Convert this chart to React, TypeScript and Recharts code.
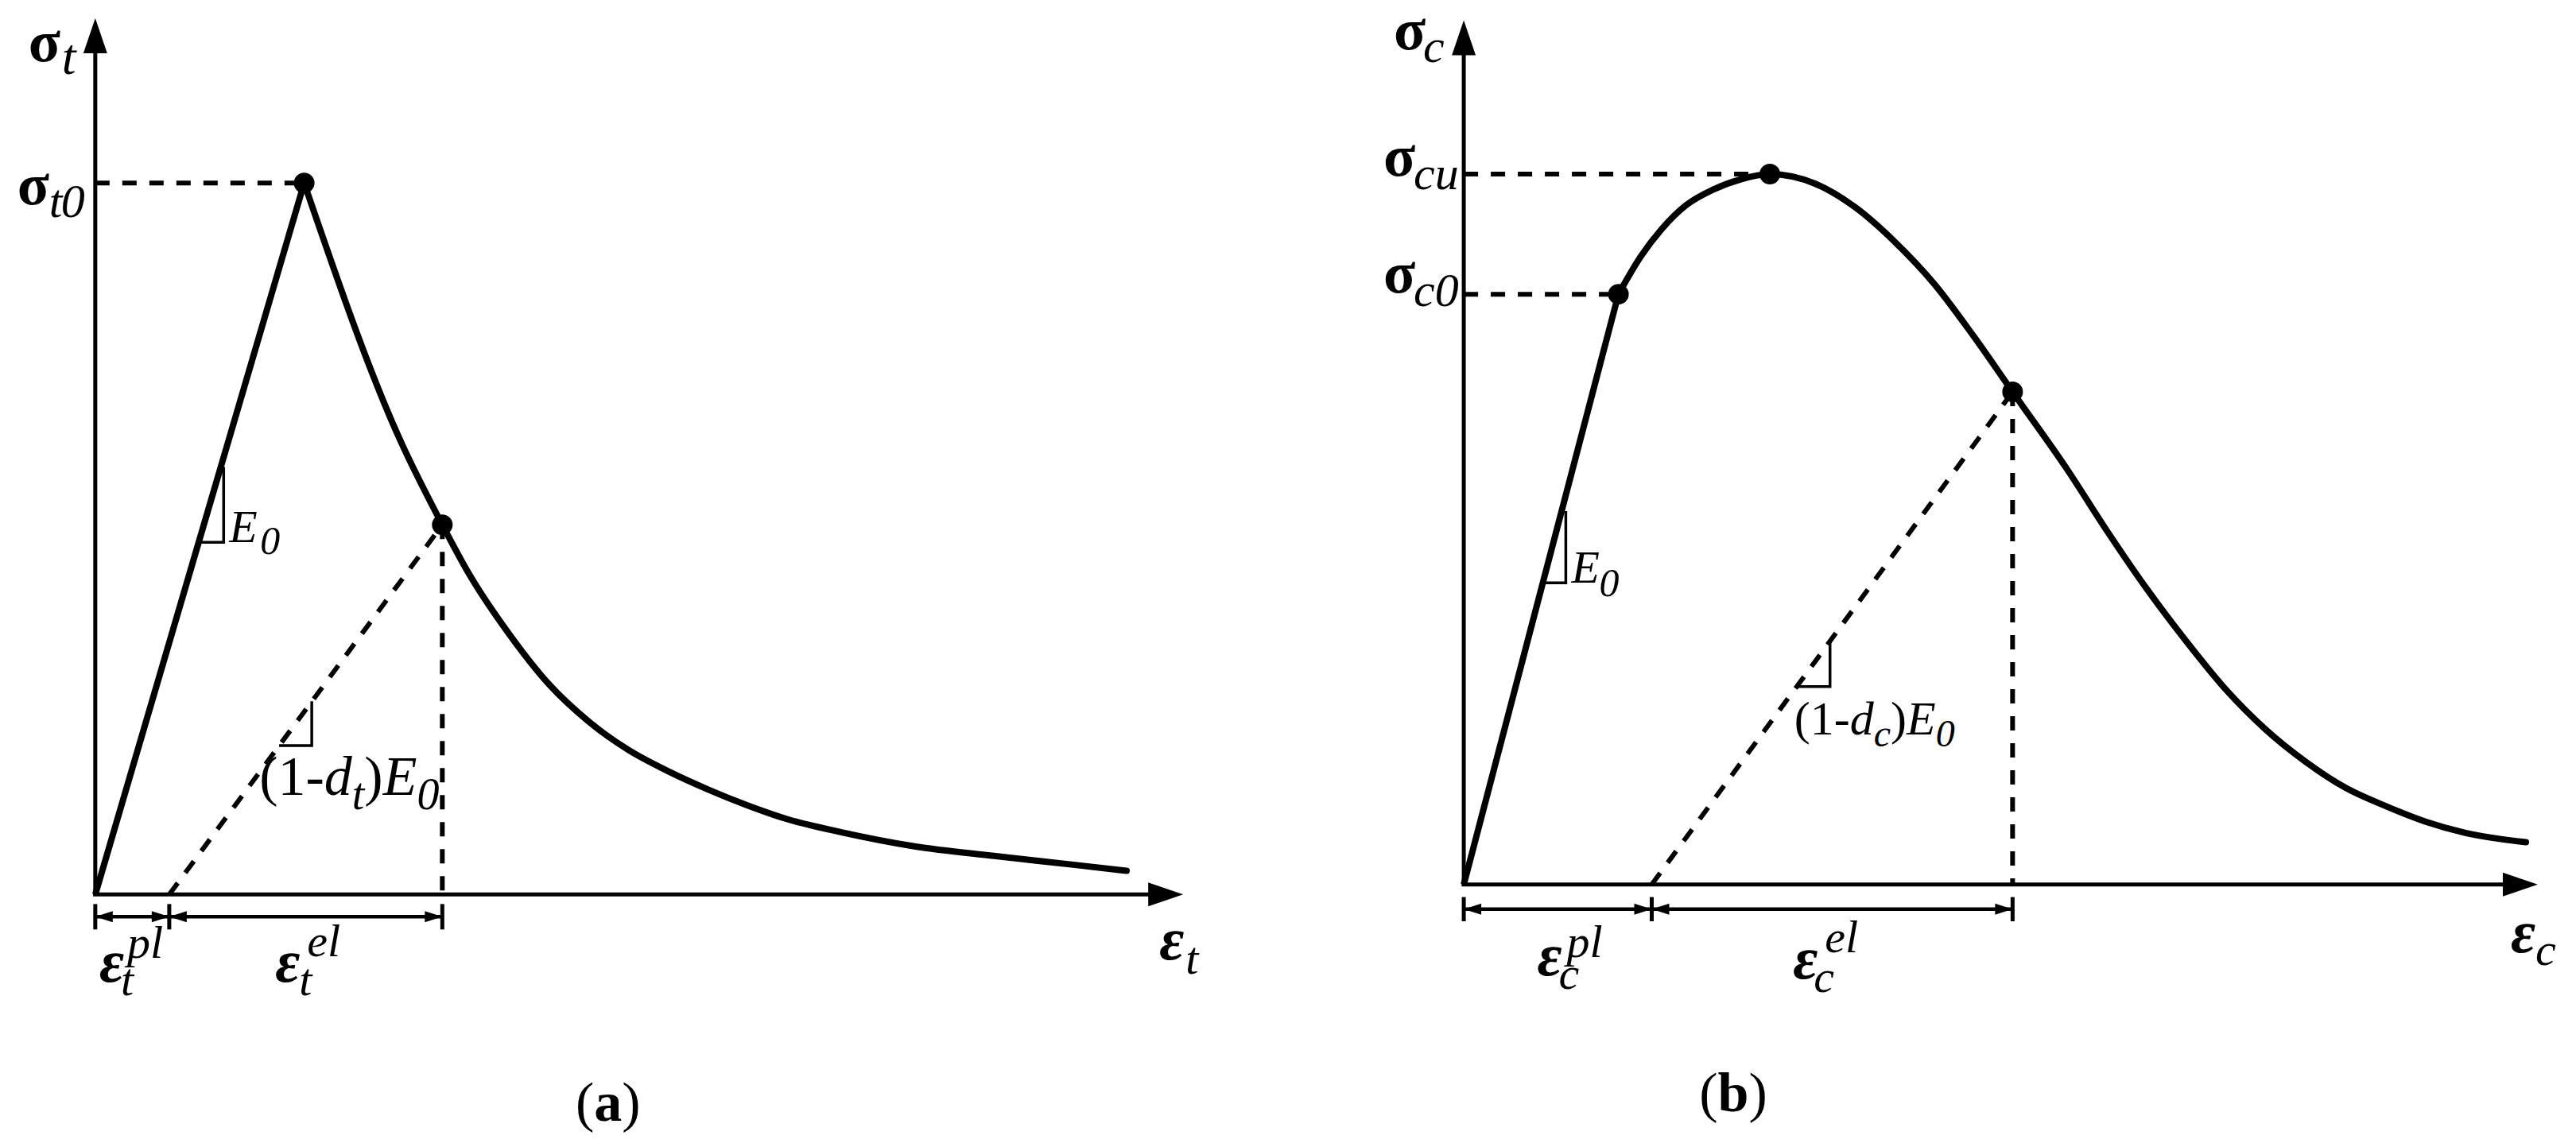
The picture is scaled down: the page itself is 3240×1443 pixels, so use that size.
import { ComposedChart, Line, XAxis, YAxis, ReferenceLine, ReferenceDot } from 'recharts'

// ---- panel (a): tension, schematic units (strain 0-100, stress 0-100)
const tensionElastic = [
  { x: 0, y: 0 },
  { x: 19.2, y: 81.2 }
]
const tensionSoftening = [
  { x: 19.2, y: 81.2 },
  { x: 27.9, y: 52.2 },
  { x: 31.9, y: 42.2 },
  { x: 34.4, y: 36.5 },
  { x: 38.0, y: 29.8 },
  { x: 41.7, y: 24.0 },
  { x: 45.3, y: 19.8 },
  { x: 49.0, y: 16.5 },
  { x: 52.6, y: 14.1 },
  { x: 56.3, y: 12.0 },
  { x: 59.9, y: 10.2 },
  { x: 63.6, y: 8.6 },
  { x: 68.6, y: 7.1 },
  { x: 75.3, y: 5.5 },
  { x: 82.6, y: 4.4 },
  { x: 89.9, y: 3.4 },
  { x: 94.8, y: 2.7 }
]
const tensionKeyPoints = [
  { x: 19.2, y: 81.2 },
  { x: 31.9, y: 42.2 }
]
const tensionUnloading = [
  { x: 6.8, y: 0 },
  { x: 31.9, y: 42.2 }
]
const tensionStrainMarks = [0, 6.8, 31.9]
const tensionSlopeMarks = [
  [{ x: 11.8, y: 48.8 }, { x: 11.8, y: 40.2 }, { x: 9.6, y: 40.2 }],
  [{ x: 19.9, y: 22.05 }, { x: 19.9, y: 17.0 }, { x: 16.9, y: 17.0 }]
]

// ---- panel (b): compression
const compressionElastic = [
  { x: 0, y: 0 },
  { x: 14.4, y: 68.3 }
]
const compressionCurve = [
  { x: 14.4, y: 68.3 },
  { x: 16.5, y: 72.7 },
  { x: 18.4, y: 75.8 },
  { x: 20.7, y: 78.6 },
  { x: 23.2, y: 80.4 },
  { x: 25.8, y: 81.6 },
  { x: 28.5, y: 82.2 },
  { x: 32.7, y: 81.1 },
  { x: 36.4, y: 78.4 },
  { x: 40.1, y: 74.4 },
  { x: 43.8, y: 69.5 },
  { x: 47.5, y: 63.4 },
  { x: 51.1, y: 57.0 },
  { x: 56.2, y: 48.0 },
  { x: 59.9, y: 40.9 },
  { x: 63.6, y: 34.2 },
  { x: 67.3, y: 28.1 },
  { x: 71.0, y: 22.5 },
  { x: 74.7, y: 17.9 },
  { x: 78.4, y: 14.2 },
  { x: 82.1, y: 11.2 },
  { x: 85.8, y: 9.1 },
  { x: 89.5, y: 7.3 },
  { x: 93.2, y: 6.0 },
  { x: 98.9, y: 4.9 }
]
const compressionKeyPoints = [
  { x: 14.4, y: 68.3 },
  { x: 28.5, y: 82.2 },
  { x: 51.1, y: 57.0 }
]
const compressionUnloading = [
  { x: 17.5, y: 0 },
  { x: 51.1, y: 57.0 }
]
const compressionStrainMarks = [0, 17.5, 51.1]
const compressionSlopeMarks = [
  [{ x: 9.5, y: 43.2 }, { x: 9.5, y: 34.9 }, { x: 7.4, y: 34.9 }],
  [{ x: 34.1, y: 28.1 }, { x: 34.1, y: 22.9 }, { x: 31.0, y: 22.9 }]
]

const FONT = "'Liberation Serif', 'Times New Roman', serif"

type Pt = { x: number; y: number }
type Piece = { s: string; dx: number; dy: number; size: number; bold?: boolean; italic?: boolean }
type Seg = { s: string; it?: boolean; sub?: boolean }
type Flow = { segs: Seg[]; dx: number; dy: number; size: number; subSize: number; shift: number }
type Label = { at: Pt; pieces?: Piece[]; flow?: Flow }

const pieceShape = (lab: Label) => (p: any) => {
  const { cx, cy } = p
  if (lab.flow) {
    const f = lab.flow
    let cur = 0
    return (
      <text x={cx + f.dx} y={cy + f.dy} fontFamily={FONT} fontSize={f.size} fill="#000">
        {f.segs.map((sg, i) => {
          const target = sg.sub ? f.shift : 0
          const d = target - cur
          cur = target
          return (
            <tspan key={i} dy={d} fontStyle={sg.it ? 'italic' : 'normal'} fontSize={sg.sub ? f.subSize : f.size}>
              {sg.s}
            </tspan>
          )
        })}
      </text>
    )
  }
  return (
    <g>
      {(lab.pieces || []).map((pc, i) => (
        <text
          key={i}
          x={cx + pc.dx}
          y={cy + pc.dy}
          fontFamily={FONT}
          fontSize={pc.size}
          fontWeight={pc.bold ? 700 : 400}
          fontStyle={pc.italic ? 'italic' : 'normal'}
          fill="#000"
        >
          {pc.s}
        </text>
      ))}
    </g>
  )
}

const arrowHead = (dir: 'up' | 'right' | 'left', len: number, half: number) => (p: any) => {
  const { cx, cy } = p
  let pts = ''
  if (dir === 'up') pts = `${cx},${cy} ${cx - half},${cy + len} ${cx + half},${cy + len}`
  else if (dir === 'right') pts = `${cx},${cy} ${cx - len},${cy - half} ${cx - len},${cy + half}`
  else pts = `${cx},${cy} ${cx + len},${cy - half} ${cx + len},${cy + half}`
  return <polygon points={pts} fill="#000" />
}

const sig = (sub: string, dx: number, dy: number, subDx: number, subDy: number, size = 74, subSize = 60): Piece[] => [
  { s: 'σ', dx, dy, size, bold: true },
  { s: sub, dx: subDx, dy: subDy, size: subSize, italic: true }
]
const eps = (sub: string, sup: string, dx: number, dy: number, subDx: number, subDy: number, supDx: number, supDy: number): Piece[] => [
  { s: 'ε', dx, dy, size: 76, bold: true, italic: true },
  { s: sub, dx: subDx, dy: subDy, size: 58, italic: true },
  ...(sup ? [{ s: sup, dx: supDx, dy: supDy, size: 58, italic: true }] : [])
]
const modulus = (d: string, dx: number, dy: number, size: number): Flow => ({
  segs: [{ s: '(1-' }, { s: 'd', it: true }, { s: d, it: true, sub: true }, { s: ')' }, { s: 'E', it: true }, { s: '0', it: true, sub: true }],
  dx,
  dy,
  size,
  subSize: Math.round(size * 0.8),
  shift: Math.round(size * 0.25)
})

const tensionLabels: Label[] = [
  { at: { x: 0, y: 100 }, pieces: sig('t', -84, 54, -42, 70, 74, 64) },
  {
    at: { x: 0, y: tensionKeyPoints[0].y },
    pieces: [
      { s: 'σ', dx: -98, dy: 27, size: 74, bold: true },
      { s: 't', dx: -58, dy: 43, size: 60, italic: true },
      { s: '0', dx: -43, dy: 43, size: 60, italic: true }
    ]
  },
  {
    at: tensionSlopeMarks[0][1],
    pieces: [
      { s: 'E', dx: 7, dy: 0, size: 58, italic: true },
      { s: '0', dx: 46, dy: 15, size: 50, italic: true }
    ]
  },
  { at: tensionSlopeMarks[1][1], flow: modulus('t', -66, 62, 70) },
  { at: { x: tensionStrainMarks[1], y: 0 }, pieces: eps('t', 'pl', -88, 110, -61, 127, -53, 80) },
  { at: { x: tensionStrainMarks[2], y: 0 }, pieces: eps('t', 'el', -210, 110, -180, 127, -170, 78) },
  { at: { x: 100, y: 0 }, pieces: eps('t', '', -30, 82, 3, 100, 0, 0) }
]

const compressionLabels: Label[] = [
  { at: { x: 0, y: 100 }, pieces: sig('c', -88, 37, -51, 53, 74, 60) },
  { at: { x: 0, y: compressionKeyPoints[1].y }, pieces: sig('cu', -101, 2, -63, 19) },
  { at: { x: 0, y: compressionKeyPoints[0].y }, pieces: sig('c0', -101, -2, -63, 15) },
  {
    at: compressionSlopeMarks[0][1],
    pieces: [
      { s: 'E', dx: 7, dy: 0, size: 58, italic: true },
      { s: '0', dx: 42, dy: 17, size: 50, italic: true }
    ]
  },
  { at: compressionSlopeMarks[1][1], flow: modulus('c', -45, 60, 60) },
  { at: { x: compressionStrainMarks[1], y: 0 }, pieces: eps('c', 'pl', -144, 114, -117, 131, -107, 91) },
  { at: { x: compressionStrainMarks[2], y: 0 }, pieces: eps('c', 'el', -276, 118, -250, 135, -236, 85) },
  { at: { x: 100, y: 0 }, pieces: eps('c', '', -34, 85, -3, 101, 0, 0) }
]

interface PanelProps {
  left: number
  top: number
  width: number
  height: number
  elastic: Pt[]
  curve: Pt[]
  unloading: Pt[]
  keyPoints: Pt[]
  levels: Pt[]
  strainMarks: number[]
  slopeMarks: Pt[][]
  labels: Label[]
  dimY: number
  tickH: number
  caption: string
  captionDx: number
}

const DASH = '18 16'

function Panel(props: PanelProps) {
  const { elastic, curve, unloading, keyPoints, levels, strainMarks, slopeMarks, labels, dimY, tickH } = props
  const release = unloading[1]
  return (
    <div style={{ position: 'absolute', left: props.left, top: props.top }}>
      <ComposedChart width={props.width} height={props.height} margin={{ top: 0, right: 0, bottom: 0, left: 0 }}>
        <XAxis type="number" dataKey="x" domain={[-10, 110]} allowDataOverflow hide />
        <YAxis type="number" dataKey="y" domain={[-30, 104]} allowDataOverflow hide />

        {/* axes */}
        <ReferenceLine segment={[{ x: 0, y: 0 }, { x: 0, y: 97 }]} stroke="#000" strokeWidth={5} />
        <ReferenceLine segment={[{ x: -0.2, y: 0 }, { x: 98, y: 0 }]} stroke="#000" strokeWidth={5} />
        <ReferenceDot x={0} y={100} r={1} shape={arrowHead('up', 44, 15)} />
        <ReferenceDot x={100} y={0} r={1} shape={arrowHead('right', 44, 15)} />

        {/* guide lines */}
        {levels.map((pt, i) => (
          <ReferenceLine
            key={`lv-${i}`}
            segment={[{ x: 0, y: pt.y }, { x: pt.x, y: pt.y }]}
            stroke="#000"
            strokeWidth={6}
            strokeDasharray={DASH}
          />
        ))}
        <ReferenceLine
          segment={[{ x: release.x, y: release.y }, { x: release.x, y: 0 }]}
          stroke="#000"
          strokeWidth={6}
          strokeDasharray={DASH}
        />
        <Line
          data={unloading}
          dataKey="y"
          type="linear"
          stroke="#000"
          strokeWidth={6}
          strokeDasharray={DASH}
          dot={false}
          activeDot={false}
          isAnimationActive={false}
        />

        {/* slope markers */}
        {slopeMarks.map((tri, i) => (
          <Line
            key={`sm-${i}`}
            data={tri}
            dataKey="y"
            type="linear"
            stroke="#000"
            strokeWidth={3.5}
            dot={false}
            activeDot={false}
            isAnimationActive={false}
          />
        ))}

        {/* stress-strain curve */}
        <Line
          data={elastic}
          dataKey="y"
          type="linear"
          stroke="#000"
          strokeWidth={8}
          dot={false}
          activeDot={false}
          isAnimationActive={false}
        />
        <Line
          data={curve}
          dataKey="y"
          type="monotone"
          stroke="#000"
          strokeWidth={8}
          strokeLinecap="round"
          strokeLinejoin="round"
          dot={false}
          activeDot={false}
          isAnimationActive={false}
        />
        {keyPoints.map((pt, i) => (
          <ReferenceDot key={`kp-${i}`} x={pt.x} y={pt.y} r={13} fill="#000" stroke="none" />
        ))}

        {/* strain dimension arrows */}
        {strainMarks.map((m, i) => (
          <ReferenceLine
            key={`tk-${i}`}
            segment={[{ x: m, y: dimY - tickH }, { x: m, y: dimY + tickH }]}
            stroke="#000"
            strokeWidth={5}
          />
        ))}
        {strainMarks.slice(1).map((m, i) => (
          <ReferenceLine
            key={`dl-${i}`}
            segment={[{ x: strainMarks[i], y: dimY }, { x: m, y: dimY }]}
            stroke="#000"
            strokeWidth={4.5}
          />
        ))}
        {strainMarks.slice(1).map((m, i) => (
          <ReferenceDot key={`al-${i}`} x={strainMarks[i]} y={dimY} r={1} shape={arrowHead('left', 22, 7)} />
        ))}
        {strainMarks.slice(1).map((m, i) => (
          <ReferenceDot key={`ar-${i}`} x={m} y={dimY} r={1} shape={arrowHead('right', 22, 7)} />
        ))}

        {/* labels */}
        {labels.map((lab, i) => (
          <ReferenceDot key={`lb-${i}`} x={lab.at.x} y={lab.at.y} r={1} shape={pieceShape(lab)} />
        ))}
        <ReferenceDot
          x={0}
          y={0}
          r={1}
          shape={(p: any) => (
            <text x={p.cx + props.captionDx} y={p.cy + 285} textAnchor="middle" fontFamily={FONT} fontSize={70} fill="#000">
              (<tspan fontWeight={700}>{props.caption}</tspan>)
            </text>
          )}
        />
      </ComposedChart>
    </div>
  )
}

export default function App() {
  return (
    <div
      style={{
        position: 'absolute',
        left: 0,
        top: 0,
        width: 3240,
        height: 1443,
        overflow: 'hidden',
        background: '#fff'
      }}
    >
      <Panel
        left={-17}
        top={-21}
        width={1642}
        height={1477}
        elastic={tensionElastic}
        curve={tensionSoftening}
        unloading={tensionUnloading}
        keyPoints={tensionKeyPoints}
        levels={[tensionKeyPoints[0]]}
        strainMarks={tensionStrainMarks}
        slopeMarks={tensionSlopeMarks}
        labels={tensionLabels}
        dimY={-2.54}
        tickH={1.45}
        caption="a"
        captionDx={645}
      />
      <Panel
        left={1706}
        top={-18}
        width={1621}
        height={1457}
        elastic={compressionElastic}
        curve={compressionCurve}
        unloading={compressionUnloading}
        keyPoints={compressionKeyPoints}
        levels={[compressionKeyPoints[1], compressionKeyPoints[0]]}
        strainMarks={compressionStrainMarks}
        slopeMarks={compressionSlopeMarks}
        labels={compressionLabels}
        dimY={-2.85}
        tickH={1.4}
        caption="b"
        captionDx={339}
      />
    </div>
  )
}
